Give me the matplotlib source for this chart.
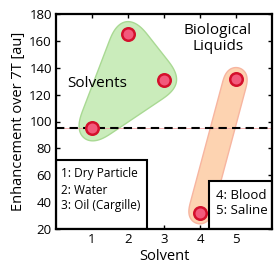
import numpy as np
import matplotlib
matplotlib.use("Agg")
import matplotlib.pyplot as plt
from matplotlib.patches import Polygon, Rectangle

plt.rcParams['font.family'] = ['Open Sans', 'DejaVu Sans']

# data
solvent = [1, 2, 3, 4, 5]
enhancement = [95, 165, 131, 32, 132]
threshold = 95
solvent_group = [0, 1, 2]      # indices of the "Solvents" blob
bio_group = [3, 4]             # indices of the "Biological Liquids" blob
legend_left = ["1: Dry Particle", "2: Water", "3: Oil (Cargille)"]
legend_right = ["4: Blood", "5: Saline"]
yticks = [20, 40, 60, 80, 100, 120, 140, 160, 180]


def convex_hull(p):
    p = sorted(map(tuple, p))
    def cross(o, a, b):
        return (a[0]-o[0])*(b[1]-o[1]) - (a[1]-o[1])*(b[0]-o[0])
    lower, upper = [], []
    for q in p:
        while len(lower) >= 2 and cross(lower[-2], lower[-1], q) <= 0:
            lower.pop()
        lower.append(q)
    for q in reversed(p):
        while len(upper) >= 2 and cross(upper[-2], upper[-1], q) <= 0:
            upper.pop()
        upper.append(q)
    return np.array(lower[:-1] + upper[:-1])


def smooth_closed(h, n=400, win=60):
    # resample evenly along the outline, then circular moving average
    seg = np.sqrt(((np.roll(h, -1, 0) - h)**2).sum(1))
    s = np.concatenate([[0], np.cumsum(seg)])
    hh = np.vstack([h, h[:1]])
    u = np.linspace(0, s[-1], n, endpoint=False)
    p = np.column_stack([np.interp(u, s, hh[:, 0]), np.interp(u, s, hh[:, 1])])
    k = np.ones(win) / win
    ext = np.vstack([p[-win:], p, p[:win]])
    out = np.column_stack([np.convolve(ext[:, 0], k, 'same'),
                           np.convolve(ext[:, 1], k, 'same')])
    return out[win:-win]


def blob(ax, idx, r, fc, ec, win):
    xy = np.column_stack([[solvent[i] for i in idx], [enhancement[i] for i in idx]])
    pts = ax.transData.transform(xy)
    t = np.linspace(0, 2*np.pi, 80, endpoint=False)
    circ = np.column_stack([np.cos(t), np.sin(t)]) * r
    ring = np.concatenate([p + circ for p in pts])
    outline = smooth_closed(convex_hull(ring), win=win)
    outline = ax.transData.inverted().transform(outline)
    ax.add_patch(Polygon(outline, closed=True, fc=fc, ec=ec, lw=1.0, zorder=1))


fig = plt.figure(figsize=(2.74, 2.67), dpi=100)
ax = fig.add_axes([56/274, 38/267, 216/274, 215/267])
ax.set_xlim(0, 6)
ax.set_ylim(20, 180)

blob(ax, solvent_group, 15, '#caecbb', '#a9d993', 36)
blob(ax, bio_group, 12, '#fdd3b1', '#f7b5a0', 20)

ax.axhline(threshold, color='#f2a5a5', lw=0.6, zorder=2)
ax.axhline(threshold, color='black', lw=1.5, ls=(0, (4, 2.5)), zorder=3)

ax.plot(solvent, enhancement, 'o', ms=9, mfc='#f25a7c', mec='#d4102c', mew=1.8, zorder=4)

ax.text(1.14, 128, "Solvents", ha='center', va='center', fontsize=11)
ax.text(4.5, 162, "Biological\nLiquids", ha='center', va='center', fontsize=11,
        linespacing=1.1)

# legend boxes
ax.add_patch(Rectangle((0, 0), 0.42, 0.32, transform=ax.transAxes, fc='white',
                       ec='black', lw=1.5, zorder=5))
ax.add_patch(Rectangle((0.708, 0), 0.292, 0.223, transform=ax.transAxes, fc='white',
                       ec='black', lw=1.5, zorder=5))
for s, yy in zip(legend_left, [0.256, 0.177, 0.107]):
    ax.text(0.025, yy, s, transform=ax.transAxes, fontsize=8.6, va='center', zorder=6)
for s, yy in zip(legend_right, [0.158, 0.084]):
    ax.text(0.741, yy, s, transform=ax.transAxes, fontsize=9.5, va='center', zorder=6)

ax.set_xticks(solvent)
ax.set_yticks(yticks)
ax.tick_params(direction='in', length=3, width=1, top=True, right=True,
               labelsize=9.5, pad=3)
for sp in ax.spines.values():
    sp.set_linewidth(1.6)
    sp.set_zorder(7)

ax.set_xlabel("Solvent", fontsize=10.5, labelpad=2)
ax.set_ylabel("Enhancement over 7T [au]", fontsize=10.5, labelpad=2)

fig.savefig("out.png", dpi=100)
